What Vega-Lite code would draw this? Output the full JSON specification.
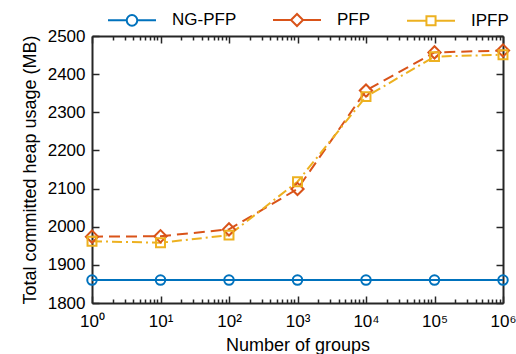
{
  "$schema": "https://vega.github.io/schema/vega-lite/v6.json",
  "autosize": {"type": "none"},
  "width": 411,
  "height": 267,
  "padding": {"left": 92, "top": 36, "right": 13, "bottom": 51},
  "background": "white",
  "config": {
    "view": {"stroke": null},
    "font": "Liberation Sans",
    "axis": {
      "domainColor": "#262626",
      "domainWidth": 2,
      "tickColor": "#262626",
      "tickWidth": 1.5,
      "labelColor": "#000000",
      "titleColor": "#000000",
      "labelFont": "Liberation Sans",
      "titleFont": "Liberation Sans",
      "labelFontSize": 17,
      "titleFontSize": 18,
      "titleFontWeight": "normal",
      "grid": false
    }
  },
  "data": {
    "values": [
      {"groups": 1, "series": "NG-PFP", "heap": 1860},
      {"groups": 10, "series": "NG-PFP", "heap": 1860},
      {"groups": 100, "series": "NG-PFP", "heap": 1860},
      {"groups": 1000, "series": "NG-PFP", "heap": 1860},
      {"groups": 10000, "series": "NG-PFP", "heap": 1860},
      {"groups": 100000, "series": "NG-PFP", "heap": 1860},
      {"groups": 1000000, "series": "NG-PFP", "heap": 1860},
      {"groups": 1, "series": "PFP", "heap": 1974},
      {"groups": 10, "series": "PFP", "heap": 1975},
      {"groups": 100, "series": "PFP", "heap": 1993},
      {"groups": 1000, "series": "PFP", "heap": 2099},
      {"groups": 10000, "series": "PFP", "heap": 2357},
      {"groups": 100000, "series": "PFP", "heap": 2457},
      {"groups": 1000000, "series": "PFP", "heap": 2462},
      {"groups": 1, "series": "IPFP", "heap": 1962},
      {"groups": 10, "series": "IPFP", "heap": 1958},
      {"groups": 100, "series": "IPFP", "heap": 1978},
      {"groups": 1000, "series": "IPFP", "heap": 2118},
      {"groups": 10000, "series": "IPFP", "heap": 2341},
      {"groups": 100000, "series": "IPFP", "heap": 2446},
      {"groups": 1000000, "series": "IPFP", "heap": 2451}
    ]
  },
  "layer": [
    {
      "mark": {"type": "line", "strokeWidth": 2},
      "encoding": {
        "x": {
          "field": "groups", "type": "quantitative",
          "scale": {"type": "log", "domain": [1, 1000000], "nice": false},
          "axis": {
            "orient": "bottom",
            "title": "Number of groups",
            "titlePadding": 4,
            "values": [1,2,3,4,5,6,7,8,9,10,20,30,40,50,60,70,80,90,100,200,300,400,500,600,700,800,900,1000,2000,3000,4000,5000,6000,7000,8000,9000,10000,20000,30000,40000,50000,60000,70000,80000,90000,100000,200000,300000,400000,500000,600000,700000,800000,900000,1000000],
            "tickSize": {"condition": {"test": "abs(log(datum.value)/LN10 - round(log(datum.value)/LN10)) < 0.000001", "value": -7}, "value": -4},
            "labelPadding": 17,
            "labelFlush": false,
            "labelOverlap": false,
            "labelExpr": "abs(log(datum.value)/LN10 - round(log(datum.value)/LN10)) < 0.000001 ? '10' + ['⁰','¹','²','³','⁴','⁵','⁶'][round(log(datum.value)/LN10)] : ''"
          }
        },
        "y": {
          "field": "heap", "type": "quantitative",
          "scale": {"domain": [1800, 2500], "nice": false, "zero": false},
          "axis": {
            "orient": "left",
            "title": "Total committed heap usage (MB)",
            "titlePadding": 8,
            "format": "d",
            "values": [1800,1900,2000,2100,2200,2300,2400,2500],
            "tickSize": -7,
            "labelPadding": 14
          }
        },
        "color": {
          "field": "series", "type": "nominal",
          "scale": {"domain": ["NG-PFP", "PFP", "IPFP"], "range": ["#0072BD", "#D95319", "#EDB120"]},
          "legend": {
            "orient": "none",
            "legendX": 15,
            "legendY": -41,
            "direction": "horizontal",
            "title": null,
            "padding": 0,
            "columnPadding": 32,
            "labelFontSize": 17,
            "labelFont": "Liberation Sans",
            "labelColor": "#000000",
            "labelOffset": 15,
            "symbolSize": 2304,
            "symbolStrokeWidth": 2,
            "symbolOpacity": 1,
            "encode": {
              "symbols": {
                "update": {
                  "shape": {"signal": "datum.value == 'NG-PFP' ? 'M-1,0H-0.22M0.22,0H1M-0.22,0A0.22,0.22 0 1,1 0.22,0A0.22,0.22 0 1,1 -0.22,0Z' : datum.value == 'PFP' ? 'M-1,0H-0.25M0.25,0H1M-0.25,0L0,-0.25L0.25,0L0,0.25Z' : 'M-1,0H-0.19M0.19,0H1M-0.19,-0.19H0.19V0.19H-0.19Z'"},
                  "fill": {"value": "transparent"}
                }
              }
            }
          }
        },
        "strokeDash": {
          "condition": [
            {"test": "datum.series == 'PFP'", "value": [11, 6]},
            {"test": "datum.series == 'IPFP'", "value": [10, 4, 2, 4]}
          ],
          "value": [1, 0]
        },
        "order": {"field": "groups", "type": "quantitative"}
      }
    },
    {
      "mark": {"type": "point", "filled": false, "strokeWidth": 2, "opacity": 1},
      "encoding": {
        "x": {
          "field": "groups", "type": "quantitative",
          "scale": {"type": "log", "domain": [1, 1000000], "nice": false},
          "axis": {
            "orient": "top",
            "title": null,
            "labels": false,
            "values": [1,2,3,4,5,6,7,8,9,10,20,30,40,50,60,70,80,90,100,200,300,400,500,600,700,800,900,1000,2000,3000,4000,5000,6000,7000,8000,9000,10000,20000,30000,40000,50000,60000,70000,80000,90000,100000,200000,300000,400000,500000,600000,700000,800000,900000,1000000],
            "tickSize": {"condition": {"test": "abs(log(datum.value)/LN10 - round(log(datum.value)/LN10)) < 0.000001", "value": -7}, "value": -4}
          }
        },
        "y": {
          "field": "heap", "type": "quantitative",
          "scale": {"domain": [1800, 2500], "nice": false, "zero": false},
          "axis": {
            "orient": "right",
            "title": null,
            "labels": false,
            "values": [1800,1900,2000,2100,2200,2300,2400,2500],
            "tickSize": -7
          }
        },
        "color": {"field": "series", "type": "nominal", "legend": null},
        "shape": {
          "condition": [
            {"test": "datum.series == 'PFP'", "value": "diamond"},
            {"test": "datum.series == 'IPFP'", "value": "square"}
          ],
          "value": "circle"
        },
        "size": {
          "condition": [
            {"test": "datum.series == 'PFP'", "value": 150},
            {"test": "datum.series == 'IPFP'", "value": 80}
          ],
          "value": 90
        }
      }
    }
  ],
  "resolve": {"axis": {"x": "independent", "y": "independent"}}
}
